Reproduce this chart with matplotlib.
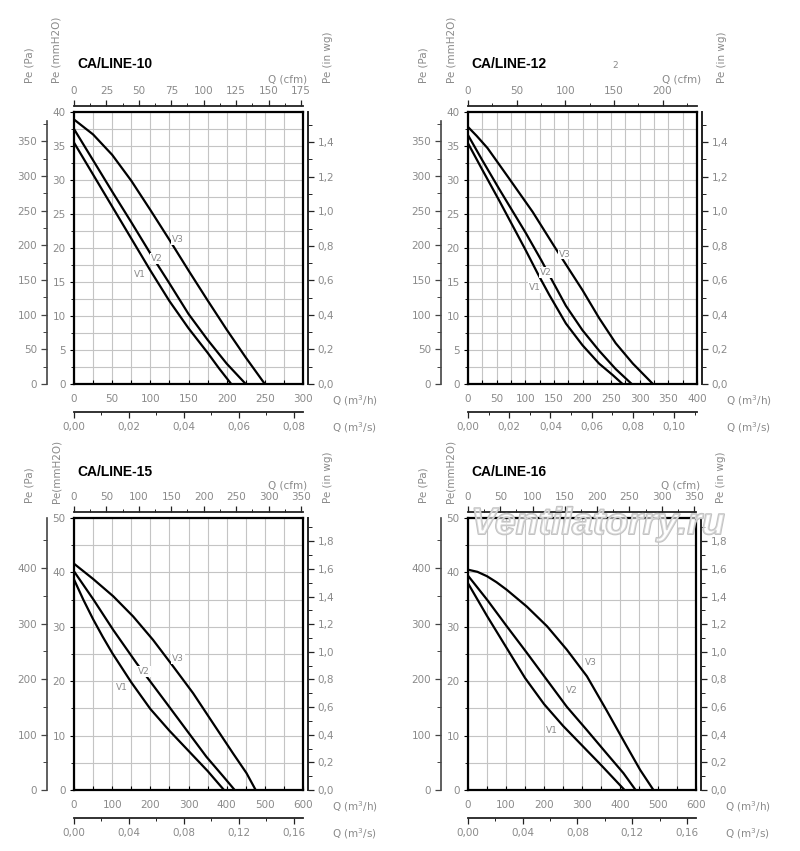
import numpy as np
import matplotlib
matplotlib.use("Agg")
import matplotlib.pyplot as plt
import matplotlib.patheffects as pe
from matplotlib.ticker import MultipleLocator, FuncFormatter

W, H = 800, 851

# fan curves: Q in m3/h, Pe in mmH2O
# CA/LINE-10
q10_v1 = [0, 25, 50, 75, 100, 125, 150, 175, 190, 206]
p10_v1 = [35.5, 30.8, 26.1, 21.4, 16.7, 12.2, 8.2, 4.6, 2.3, 0]
q10_v2 = [0, 25, 50, 75, 100, 125, 150, 175, 200, 225]
p10_v2 = [37.5, 32.9, 28.3, 23.8, 19.2, 14.8, 10.3, 6.5, 3.0, 0]
q10_v3 = [0, 25, 50, 75, 100, 125, 150, 175, 200, 225, 250]
p10_v3 = [38.9, 36.7, 33.7, 29.9, 25.6, 21.2, 16.7, 12.3, 8.0, 3.9, 0]

# CA/LINE-12
q12_v1 = [0, 25, 55, 100, 122, 142, 171, 200, 229, 253, 270]
p12_v1 = [35.4, 31.5, 26.9, 19.8, 16.2, 13.1, 8.9, 5.7, 3.0, 1.3, 0]
q12_v2 = [0, 25, 55, 101, 128, 142, 171, 200, 229, 258, 286]
p12_v2 = [36.6, 32.9, 28.6, 22.2, 18.2, 16.0, 11.5, 7.9, 4.9, 2.2, 0]
q12_v3 = [0, 15, 34, 72, 113, 151, 200, 229, 258, 288, 323]
p12_v3 = [37.8, 36.5, 34.7, 30.2, 25.3, 20.2, 13.8, 9.7, 6.0, 3.0, 0]

# CA/LINE-15
q15_v1 = [0, 25, 50, 75, 100, 150, 200, 250, 300, 350, 393]
p15_v1 = [38.7, 34.9, 31.4, 28.2, 25.2, 19.8, 14.9, 10.9, 7.2, 3.5, 0]
q15_v2 = [0, 51, 103, 164, 242, 295, 347, 391, 421]
p15_v2 = [40.2, 35.0, 29.4, 23.3, 16.0, 11.0, 6.1, 2.5, 0]
q15_v3 = [0, 50, 103, 155, 207, 260, 312, 364, 417, 452, 476]
p15_v3 = [41.6, 38.8, 35.6, 31.9, 27.6, 22.7, 17.8, 12.3, 6.7, 3.1, 0]

# CA/LINE-16
q16_v1 = [0, 50, 100, 150, 200, 250, 300, 350, 412]
p16_v1 = [38.0, 32.0, 26.3, 20.6, 15.8, 11.8, 8.2, 4.6, 0]
q16_v2 = [0, 50, 102, 155, 208, 260, 313, 365, 409, 441]
p16_v2 = [39.4, 35.0, 30.1, 25.2, 20.2, 15.3, 11.0, 6.7, 3.1, 0]
q16_v3 = [0, 25, 50, 75, 102, 155, 208, 260, 313, 365, 418, 453, 488]
p16_v3 = [40.5, 40.1, 39.3, 38.2, 36.8, 33.7, 30.1, 25.8, 20.9, 14.6, 8.0, 3.7, 0]

curve_names = ["V1", "V2", "V3"]
titles = ["CA/LINE-10", "CA/LINE-12", "CA/LINE-15", "CA/LINE-16"]

PA_PER_MM = 9.80665
MM_PER_INWG = 25.4
CFM_PER_M3H = 0.588578

GRID = "#c4c4c4"
TXT = "#8a8a8a"
DARK = "#222222"


def comma(fmt):
    return FuncFormatter(lambda v, _: format(v, fmt).replace(".", ","))


def ftext(fig, x, y, s, **kw):
    return fig.text(x / W, 1 - y / H, s, **kw)


def draw_panel(fig, p):
    left, top, right, bottom = p["box"]
    w, h = right - left, bottom - top
    ax = fig.add_axes([left / W, 1 - bottom / H, w / W, h / H])
    ax.set_xlim(0, p["qmax"])
    ax.set_ylim(0, p["pmax"])
    ax.set_xticks(np.arange(0, p["qmax"] + 1, p["qstep"]))
    ax.set_yticks(np.arange(0, p["pmax"] + 0.1, p["pstep"]))
    ax.xaxis.set_minor_locator(MultipleLocator(p["qgrid"]))
    ax.yaxis.set_minor_locator(MultipleLocator(p["pgrid"]))
    ax.grid(which="both", color=GRID, lw=0.8, zorder=0)
    ax.set_axisbelow(True)
    for s in ax.spines.values():
        s.set_linewidth(1.6)
        s.set_color("black")
    ax.tick_params(axis="x", which="both", direction="in", length=3, width=0.8,
                   labelsize=7.5, labelcolor=TXT, pad=7, top=False)
    ax.tick_params(axis="y", which="major", direction="out", length=3, width=0.8,
                   labelsize=7.5, labelcolor=TXT, pad=3, right=False)
    ax.tick_params(axis="y", which="minor", direction="out", length=2, width=0.6, right=False)

    for (q, pe_, name), lab in zip(p["curves"], p["labels"]):
        ax.plot(q, pe_, color="black", lw=1.6, zorder=3, solid_joinstyle="round")
        ax.text(lab[0], lab[1], name, fontsize=6.5, color=TXT, ha="center", va="center",
                zorder=4, bbox=dict(facecolor="white", edgecolor="none", pad=0.6))

    # Pa scale on the far left
    pa = ax.secondary_yaxis(-27 / w, functions=(lambda v: v * PA_PER_MM, lambda v: v / PA_PER_MM))
    pa.set_yticks(np.arange(0, p["pa_max"] + 1, p["pa_step"]))
    pa.yaxis.set_minor_locator(MultipleLocator(p["pa_minor"]))
    pa.tick_params(which="major", direction="out", length=4, width=0.9, color="#444",
                   labelsize=7.5, labelcolor=TXT, pad=3)
    pa.tick_params(which="minor", direction="out", length=3, width=0.7, color="#444")
    pa.spines["left"].set_color("#444")
    pa.spines["left"].set_linewidth(1.2)
    if p["pa_spine"] is not None:
        pa.spines["left"].set_bounds(0, p["pa_spine"])

    # in wg scale on the right
    wg = ax.secondary_yaxis(1 + 5 / w, functions=(lambda v: v / MM_PER_INWG, lambda v: v * MM_PER_INWG))
    wg.set_yticks(np.arange(0, p["wg_max"] + 0.01, 0.2))
    wg.yaxis.set_minor_locator(MultipleLocator(0.1))
    wg.yaxis.set_major_formatter(comma(".1f"))
    wg.tick_params(which="major", direction="out", length=4, width=0.9, color=DARK,
                   labelsize=7.5, labelcolor=TXT, pad=3)
    wg.tick_params(which="minor", direction="out", length=3, width=0.7, color=DARK)
    wg.spines["right"].set_color(DARK)
    wg.spines["right"].set_linewidth(1.4)

    # cfm scale on top
    cfm = ax.secondary_xaxis(1 + 6 / h, functions=(lambda v: v * CFM_PER_M3H, lambda v: v / CFM_PER_M3H))
    cfm.set_xticks(np.arange(0, p["cfm_max"] + 1, p["cfm_step"]))
    cfm.xaxis.set_minor_locator(MultipleLocator(p["cfm_minor"]))
    cfm.tick_params(which="major", direction="out", length=4, width=0.9, color=DARK,
                    labelsize=7.5, labelcolor=TXT, pad=3)
    cfm.tick_params(which="minor", direction="out", length=2.5, width=0.7, color=DARK)
    cfm.spines["top"].set_color(DARK)
    cfm.spines["top"].set_linewidth(1.3)

    # m3/s scale below
    ms = ax.secondary_xaxis(-28 / h, functions=(lambda v: v / 3600.0, lambda v: v * 3600.0))
    ms.set_xticks(np.arange(0, p["ms_max"] + 1e-9, p["ms_step"]))
    ms.xaxis.set_minor_locator(MultipleLocator(p["ms_step"] / 2))
    ms.xaxis.set_major_formatter(comma(".2f"))
    ms.tick_params(which="major", direction="out", length=4, width=0.9, color=DARK,
                   labelsize=7.5, labelcolor=TXT, pad=3)
    ms.tick_params(which="minor", direction="out", length=2.5, width=0.7, color=DARK)
    ms.spines["bottom"].set_color(DARK)
    ms.spines["bottom"].set_linewidth(1.3)

    # titles and unit labels
    dy = p["label_dy"]
    ftext(fig, left + 3, top - p["title_dy"], p["title"], fontsize=10, fontweight="bold",
          family="Liberation Sans", color="black", ha="left", va="center")
    ftext(fig, right + 4, top - p["cfm_dy"], "Q (cfm)", fontsize=7.5, color=TXT,
          ha="right", va="center")
    ftext(fig, left - 45, top - dy, "Pe (Pa)", fontsize=7.5, color=TXT, rotation=90,
          ha="center", va="bottom")
    ftext(fig, left - 17, top - dy, p["mm_label"], fontsize=7.5, color=TXT, rotation=90,
          ha="center", va="bottom")
    ftext(fig, right + 25, top - dy, "Pe (in wg)", fontsize=7.5, color=TXT, rotation=90,
          ha="center", va="bottom")
    ftext(fig, right + 29, bottom + 17, "Q (m$^3$/h)", fontsize=7.5, color=TXT,
          ha="left", va="center")
    ftext(fig, right + 29, bottom + 44, "Q (m$^3$/s)", fontsize=7.5, color=TXT,
          ha="left", va="center")
    return ax


top_row = dict(qgrid=25, pmax=40, pstep=5, pgrid=2.5, pa_max=350, pa_step=50, pa_minor=25,
               pa_spine=380, wg_max=1.4, title_dy=48, cfm_dy=32, label_dy=29,
               mm_label="Pe (mmH2O)")
bottom_row = dict(qmax=600, qstep=100, qgrid=50, pmax=50, pstep=10, pgrid=5, pa_max=400,
                  pa_step=100, pa_minor=50, pa_spine=None, wg_max=1.8, cfm_max=350,
                  cfm_step=50, cfm_minor=25, ms_max=0.16, ms_step=0.04, title_dy=46,
                  cfm_dy=33, label_dy=15, mm_label="Pe(mmH2O)")

panels = [
    dict(top_row, box=(74, 112, 303, 384), title=titles[0], qmax=300, qstep=50,
         cfm_max=175, cfm_step=25, cfm_minor=12.5, ms_max=0.08, ms_step=0.02,
         curves=list(zip([q10_v1, q10_v2, q10_v3], [p10_v1, p10_v2, p10_v3], curve_names)),
         labels=[(86, 16.1), (108, 18.5), (136, 21.2)]),
    dict(top_row, box=(468, 112, 697, 384), title=titles[1], qmax=400, qstep=50,
         cfm_max=200, cfm_step=50, cfm_minor=25, ms_max=0.10, ms_step=0.02,
         curves=list(zip([q12_v1, q12_v2, q12_v3], [p12_v1, p12_v2, p12_v3], curve_names)),
         labels=[(116, 14.2), (136, 16.4), (169, 19.1)]),
    dict(bottom_row, box=(74, 518, 303, 790), title=titles[2],
         curves=list(zip([q15_v1, q15_v2, q15_v3], [p15_v1, p15_v2, p15_v3], curve_names)),
         labels=[(125, 18.8), (183, 21.8), (273, 24.2)]),
    dict(bottom_row, box=(468, 518, 696, 790), title=titles[3],
         curves=list(zip([q16_v1, q16_v2, q16_v3], [p16_v1, p16_v2, p16_v3], curve_names)),
         labels=[(221, 11.0), (273, 18.3), (323, 23.4)]),
]

fig = plt.figure(figsize=(W / 100, H / 100), dpi=100)
fig.patch.set_facecolor("white")

for p in panels:
    draw_panel(fig, p)

# stray mark and watermark present on the source sheet
ftext(fig, 615, 66, "2", fontsize=6.5, color=TXT, ha="center", va="center")
ftext(fig, 598, 524, "Ventilatorry.ru", fontsize=27, fontstyle="italic", fontweight="bold",
      family="Liberation Sans", color=(1, 1, 1, 0.35), ha="center", va="center", zorder=10,
      path_effects=[pe.Stroke(linewidth=1.4, foreground="#c2c2c2"), pe.Normal()])

fig.savefig("out.png", dpi=100)
